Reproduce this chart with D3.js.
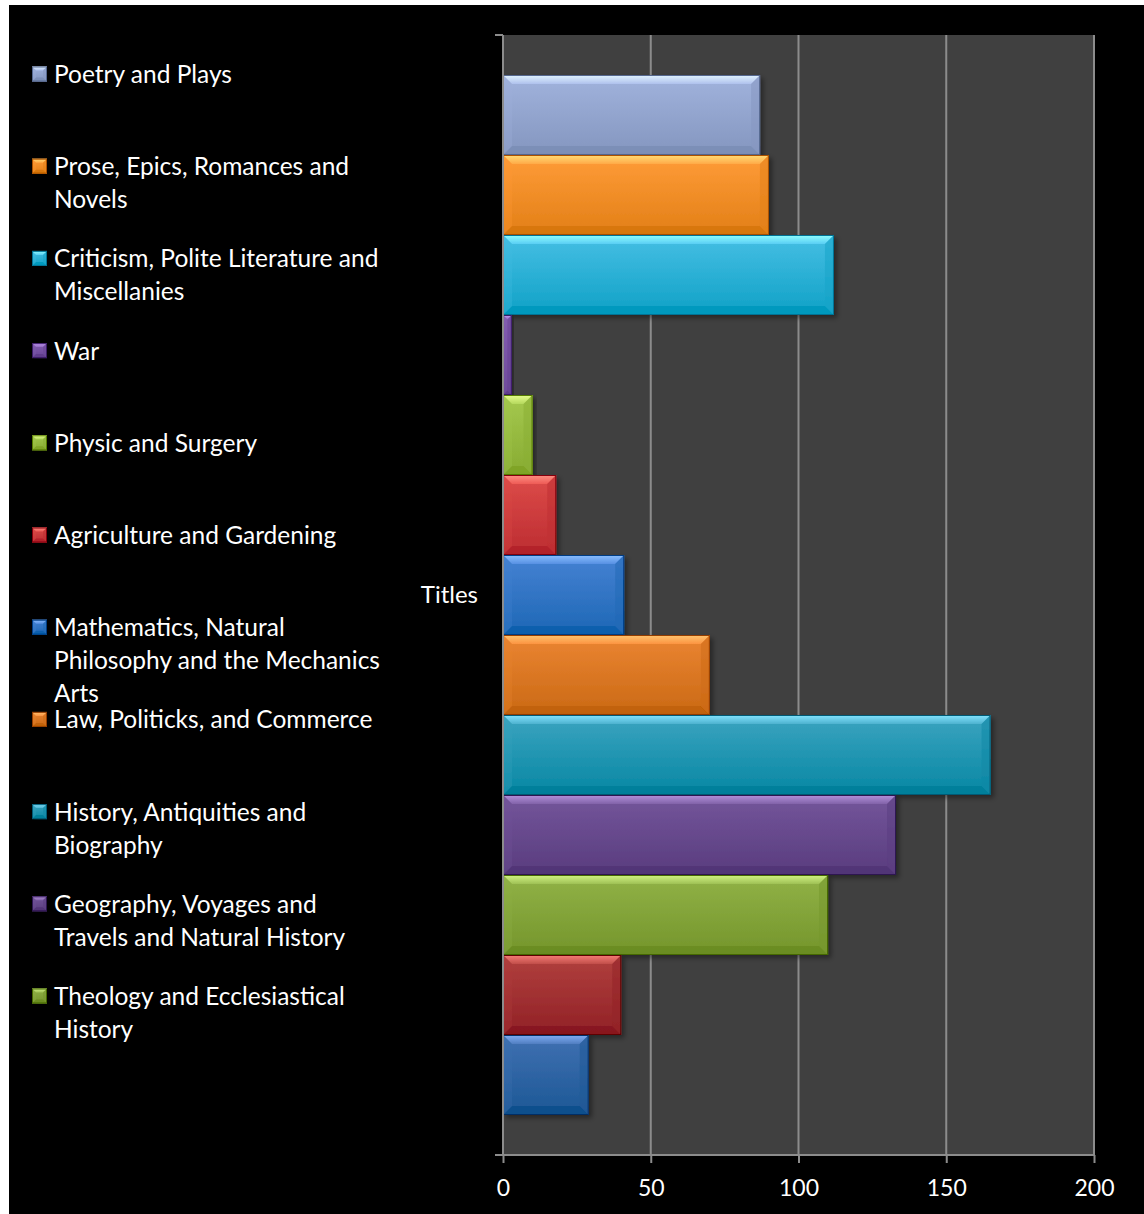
<!DOCTYPE html>
<html><head><meta charset="utf-8">
<script src="https://cdn.jsdelivr.net/npm/d3@7"></script>
<style>html,body{margin:0;padding:0;background:#fff}svg{display:block}</style>
</head><body>
<svg id="c" width="1144" height="1214"></svg>
<script>
// ---- data ----
const categories = ["Titles"];
const seriesNames = [
  "Poetry and Plays",
  "Prose, Epics, Romances and Novels",
  "Criticism, Polite Literature and Miscellanies",
  "War",
  "Physic and Surgery",
  "Agriculture and Gardening",
  "Mathematics, Natural Philosophy and the Mechanics Arts",
  "Law, Politicks, and Commerce",
  "History, Antiquities and Biography",
  "Geography, Voyages and Travels and Natural History",
  "Theology and Ecclesiastical History",
  "Series 12",
  "Series 13"
];
const seriesValues = [87, 90, 112, 3, 10, 18, 41, 70, 165, 133, 110, 40, 29];
const seriesColors = ["#97a9d3","#f8922e","#38b5da","#7a55a8","#9bbf45","#d24241","#3a79c9","#e07c29","#2f9ab6","#6b4d91","#87a83e","#a63636","#3568a8"];
// legend shows only the first 11 entries, with the text wrapped as in the picture
const legendLines = [
  ["Poetry and Plays"],
  ["Prose, Epics, Romances and","Novels"],
  ["Criticism, Polite Literature and","Miscellanies"],
  ["War"],
  ["Physic and Surgery"],
  ["Agriculture and Gardening"],
  ["Mathematics, Natural","Philosophy and the Mechanics","Arts"],
  ["Law, Politicks, and Commerce"],
  ["History, Antiquities and","Biography"],
  ["Geography, Voyages and","Travels and Natural History"],
  ["Theology and Ecclesiastical","History"]
];
const xTicks = [0, 50, 100, 150, 200];

// ---- layout ----
const svg = d3.select("#c");
const FONT = "Lato, 'Open Sans', sans-serif";
const plot = {x0: 503, x1: 1094, y0: 35, y1: 1155};
const defs = svg.append("defs");

svg.append("rect").attr("x", 9).attr("y", 5).attr("width", 1135).attr("height", 1209).attr("fill", "#000");
svg.append("rect").attr("x", plot.x0).attr("y", plot.y0).attr("width", plot.x1 - plot.x0).attr("height", plot.y1 - plot.y0).attr("fill", "#404040");

const x = d3.scaleLinear().domain([0, 200]).range([plot.x0, plot.x1]);
const y = d3.scaleBand().domain(seriesNames).range([plot.y0, plot.y1]).paddingInner(0).paddingOuter(0.5);

// gridlines
svg.append("g").selectAll("line").data(xTicks.filter(d => d > 0)).join("line")
  .attr("x1", d => x(d)).attr("x2", d => x(d)).attr("y1", plot.y0).attr("y2", plot.y1)
  .attr("stroke", "#8c8c8c").attr("stroke-width", 2);

// shadow filter
const f = defs.append("filter").attr("id", "sh").attr("x", "-5%").attr("y", "-10%").attr("width", "120%").attr("height", "130%");
f.append("feGaussianBlur").attr("in", "SourceAlpha").attr("stdDeviation", 2.5).attr("result", "b");
f.append("feOffset").attr("in", "b").attr("dx", 3).attr("dy", 3).attr("result", "o");
f.append("feComponentTransfer").attr("in", "o").attr("result", "o2").append("feFuncA").attr("type", "linear").attr("slope", 0.4);
const fm = f.append("feMerge"); fm.append("feMergeNode").attr("in", "o2"); fm.append("feMergeNode").attr("in", "SourceGraphic");

// gradients per series
seriesColors.forEach((c, i) => {
  const g = defs.append("linearGradient").attr("id", "g" + i).attr("x1", 0).attr("x2", 0).attr("y1", 0).attr("y2", 1);
  g.append("stop").attr("offset", "0").attr("stop-color", d3.hcl(c).brighter(0.2));
  g.append("stop").attr("offset", "1").attr("stop-color", d3.hcl(c).darker(0.4));
  const t = defs.append("linearGradient").attr("id", "t" + i).attr("x1", 0).attr("x2", 0).attr("y1", 0).attr("y2", 1);
  t.append("stop").attr("offset", "0").attr("stop-color", d3.hcl(c).brighter(1.5));
  t.append("stop").attr("offset", "1").attr("stop-color", d3.hcl(c).brighter(0.5));
});

function bevelBar(g, x0, y0, w, h, i, b) {
  const c = seriesColors[i];
  const bb = Math.min(b, w / 2, h / 2);
  const X1 = x0 + w, Y1 = y0 + h;
  const gg = g.append("g").attr("filter", "url(#sh)");
  gg.append("rect").attr("x", x0).attr("y", y0).attr("width", w).attr("height", h).attr("fill", `url(#g${i})`);
  // top bevel
  gg.append("path").attr("d", `M${x0},${y0}L${X1},${y0}L${X1 - bb},${y0 + bb}L${x0 + bb},${y0 + bb}Z`).attr("fill", `url(#t${i})`);
  // bottom bevel
  gg.append("path").attr("d", `M${x0},${Y1}L${X1},${Y1}L${X1 - bb},${Y1 - bb}L${x0 + bb},${Y1 - bb}Z`).attr("fill", d3.hcl(c).darker(0.6)).attr("opacity", 0.85);
  // left bevel
  gg.append("path").attr("d", `M${x0},${y0}L${x0 + bb},${y0 + bb}L${x0 + bb},${Y1 - bb}L${x0},${Y1}Z`).attr("fill", d3.hcl(c).brighter(0.15)).attr("opacity", 0.3);
  // right bevel
  gg.append("path").attr("d", `M${X1},${y0}L${X1 - bb},${y0 + bb}L${X1 - bb},${Y1 - bb}L${X1},${Y1}Z`).attr("fill", d3.hcl(c).darker(0.35)).attr("opacity", 0.55);
  gg.append("rect").attr("x", x0 + 0.5).attr("y", y0 + 0.5).attr("width", Math.max(0, w - 1)).attr("height", h - 1).attr("fill", "none")
    .attr("stroke", d3.hcl(c).darker(1.4)).attr("stroke-width", 1);
}

// bars
const barsG = svg.append("g");
seriesNames.forEach((name, i) => {
  const v = seriesValues[i];
  bevelBar(barsG, x(0), y(name), x(v) - x(0), y.bandwidth(), i, 9);
});

// axes lines
svg.append("line").attr("x1", x(0)).attr("x2", x(0)).attr("y1", plot.y0).attr("y2", plot.y1).attr("stroke", "#8c8c8c").attr("stroke-width", 2);
svg.append("line").attr("x1", 495).attr("x2", x(0)).attr("y1", plot.y0).attr("y2", plot.y0).attr("stroke", "#8c8c8c").attr("stroke-width", 2);

const xAxis = d3.axisBottom(x).tickValues(xTicks).tickSize(8).tickPadding(17).tickFormat(d3.format("d"));
const ax = svg.append("g").attr("transform", `translate(0,${plot.y1})`).call(xAxis);
ax.select(".domain").remove();
ax.append("line").attr("x1", 495).attr("x2", plot.x1).attr("y1", 0).attr("y2", 0).attr("stroke", "#8c8c8c").attr("stroke-width", 2);
ax.selectAll(".tick line").attr("stroke", "#8c8c8c").attr("stroke-width", 2);
ax.selectAll(".tick text").attr("fill", "#fff").attr("font-family", FONT).attr("font-size", 23);

// category label
svg.append("text").attr("x", 478).attr("y", (plot.y0 + plot.y1) / 2 + 8).attr("text-anchor", "end")
  .attr("fill", "#fff").attr("font-family", FONT).attr("font-size", 24).text(categories[0]);

// legend
const lg = svg.append("g");
legendLines.forEach((lines, i) => {
  const cy = 74 + i * 92.2;
  const mk = lg.append("g");
  bevelBar(mk, 32, cy - 7.5, 15, 15, i, 4);
  const t = lg.append("text").attr("x", 54).attr("y", cy + 9).attr("fill", "#fff")
    .attr("font-family", FONT).attr("font-size", 24.5);
  lines.forEach((ln, k) => t.append("tspan").attr("x", 54).attr("dy", k === 0 ? 0 : 33).text(ln));
});
</script>
</body></html>
